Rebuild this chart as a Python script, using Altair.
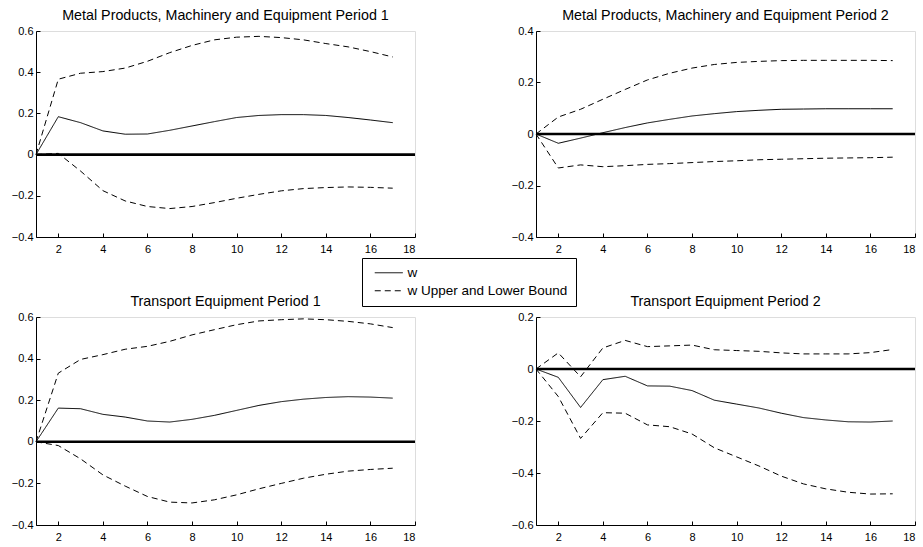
import altair as alt
import pandas as pd

# Impulse-response horizon (periods 1..17)
steps = list(range(1, 18))

panel_titles = [
    "Metal Products, Machinery and Equipment Period 1",
    "Metal Products, Machinery and Equipment Period 2",
    "Transport Equipment Period 1",
    "Transport Equipment Period 2",
]

# Point estimate w with upper / lower confidence bounds for each panel
metal_p1_w = [0.0, 0.184, 0.155, 0.115, 0.099, 0.100, 0.118, 0.139, 0.160, 0.180,
              0.190, 0.194, 0.194, 0.190, 0.180, 0.168, 0.155]
metal_p1_up = [0.0, 0.366, 0.395, 0.403, 0.420, 0.453, 0.495, 0.530, 0.557, 0.570,
               0.574, 0.568, 0.557, 0.539, 0.523, 0.500, 0.474]
metal_p1_lo = [0.0, 0.006, -0.080, -0.175, -0.225, -0.252, -0.262, -0.252, -0.233, -0.212,
               -0.193, -0.176, -0.165, -0.160, -0.157, -0.159, -0.163]

metal_p2_w = [0.0, -0.036, -0.016, 0.005, 0.025, 0.043, 0.057, 0.070, 0.079, 0.087,
              0.092, 0.096, 0.097, 0.098, 0.098, 0.098, 0.098]
metal_p2_up = [0.0, 0.066, 0.096, 0.135, 0.173, 0.210, 0.236, 0.256, 0.270, 0.278,
               0.282, 0.285, 0.286, 0.286, 0.286, 0.286, 0.285]
metal_p2_lo = [0.0, -0.132, -0.120, -0.127, -0.123, -0.118, -0.115, -0.111, -0.107, -0.104,
               -0.100, -0.098, -0.096, -0.094, -0.093, -0.092, -0.090]

trans_p1_w = [0.0, 0.162, 0.159, 0.132, 0.119, 0.100, 0.095, 0.108, 0.127, 0.151,
              0.175, 0.193, 0.205, 0.213, 0.217, 0.215, 0.210]
trans_p1_up = [0.0, 0.330, 0.396, 0.419, 0.445, 0.459, 0.483, 0.514, 0.539, 0.563,
               0.581, 0.587, 0.591, 0.587, 0.579, 0.567, 0.549]
trans_p1_lo = [0.0, -0.018, -0.082, -0.159, -0.213, -0.263, -0.290, -0.294, -0.279, -0.255,
               -0.226, -0.200, -0.175, -0.156, -0.141, -0.133, -0.127]

trans_p2_w = [0.0, -0.032, -0.148, -0.041, -0.028, -0.065, -0.066, -0.083, -0.120, -0.135,
              -0.150, -0.170, -0.187, -0.196, -0.203, -0.204, -0.200]
trans_p2_up = [0.0, 0.062, -0.030, 0.081, 0.110, 0.086, 0.089, 0.092, 0.074, 0.071,
               0.068, 0.062, 0.058, 0.058, 0.058, 0.063, 0.075]
trans_p2_lo = [0.0, -0.106, -0.267, -0.168, -0.170, -0.215, -0.222, -0.250, -0.303, -0.338,
               -0.373, -0.412, -0.442, -0.461, -0.474, -0.481, -0.480]

y_domains = [(-0.4, 0.6), (-0.4, 0.4), (-0.4, 0.6), (-0.6, 0.2)]
x_ticks = [2, 4, 6, 8, 10, 12, 14, 16, 18]

SERIES_W = "w"
SERIES_B = "w Upper and Lower Bound"
FONT = "Liberation Sans"

PANEL_W = 379
PANEL_H = [206, 206, 208, 208]


def make_panel(idx, w, up, lo, show_legend):
    rows = []
    for s, a, b, c in zip(steps, w, up, lo):
        rows.append({"step": s, "value": a, "series": SERIES_W, "line": "w"})
        rows.append({"step": s, "value": b, "series": SERIES_B, "line": "upper"})
        rows.append({"step": s, "value": c, "series": SERIES_B, "line": "lower"})
    df = pd.DataFrame(rows)

    lo_y, hi_y = y_domains[idx]
    n = int(round((hi_y - lo_y) / 0.2))
    y_ticks = [round(lo_y + 0.2 * k, 1) for k in range(n + 1)]

    xscale = alt.Scale(domain=[1, 18], nice=False, zero=False)
    yscale = alt.Scale(domain=[lo_y, hi_y], nice=False, zero=False)

    label_axis_x = alt.Axis(values=x_ticks, ticks=False, grid=False, title=None,
                            labelPadding=6, domainColor="black", labelColor="black",
                            labelFont=FONT, labelFontSize=11)
    label_axis_y = alt.Axis(values=y_ticks, ticks=False, grid=False, title=None,
                            labelPadding=3, domainColor="black", labelColor="black",
                            labelFont=FONT, labelFontSize=11,
                            labelExpr="datum.value == 0 ? '0' : format(datum.value, '.1f')")
    # inward-pointing ticks: opposite-side axes moved onto the plot edges
    tick_axis_x = alt.Axis(orient="top", offset=-PANEL_H[idx], values=x_ticks, labels=False,
                           domain=False, grid=False, title=None, tickSize=4, tickColor="black")
    tick_axis_y = alt.Axis(orient="right", offset=-PANEL_W, values=y_ticks, labels=False,
                           domain=False, grid=False, title=None, tickSize=4, tickColor="black")

    if show_legend:
        # long horizontal line sample drawn as a custom path on a small symbol box
        legend = alt.Legend(
            orient="none", legendX=326, legendY=227, title=None,
            symbolType="M-2.8,0H2.8", symbolSize=100, symbolStrokeWidth=1,
            symbolStrokeColor="black", symbolFillColor="transparent",
            labelFont=FONT, labelFontSize=13.5,
            labelColor="black", labelOffset=12, padding=8, rowPadding=3,
            symbolOffset=12,
            strokeColor="black", fillColor="white", direction="vertical",
        )
    else:
        legend = None

    lines = alt.Chart(df).mark_line(color="black", strokeWidth=1).encode(
        x=alt.X("step:Q", scale=xscale, axis=label_axis_x),
        y=alt.Y("value:Q", scale=yscale, axis=label_axis_y),
        strokeDash=alt.StrokeDash(
            "series:N",
            scale=alt.Scale(domain=[SERIES_W, SERIES_B], range=[[1, 0], [6, 4]]),
            legend=legend,
        ),
        detail="line:N",
    )

    zero = alt.Chart(pd.DataFrame({"x0": [1], "x1": [18], "y0": [0]})).mark_rule(
        color="black", strokeWidth=2.6
    ).encode(
        x=alt.X("x0:Q", scale=xscale, axis=tick_axis_x),
        x2="x1:Q",
        y=alt.Y("y0:Q", scale=yscale, axis=tick_axis_y),
    )

    return (
        alt.layer(lines, zero)
        .resolve_axis(x="independent", y="independent")
        .properties(
            width=PANEL_W,
            height=PANEL_H[idx],
            title=alt.TitleParams(panel_titles[idx], frame="group", offset=2,
                                  font=FONT, fontSize=14.3, fontWeight="normal",
                                  color="black"),
        )
    )


p1 = make_panel(0, metal_p1_w, metal_p1_up, metal_p1_lo, True)
p2 = make_panel(1, metal_p2_w, metal_p2_up, metal_p2_lo, False)
p3 = make_panel(2, trans_p1_w, trans_p1_up, trans_p1_lo, False)
p4 = make_panel(3, trans_p2_w, trans_p2_up, trans_p2_lo, False)

chart = (
    alt.concat(p1, p2, p3, p4, columns=2, spacing={"row": 80, "column": 121}, bounds="flush")
    .resolve_scale(strokeDash="independent")
    .configure_view(stroke=None)
    .configure(background="white")
    .properties(padding={"left": 10, "top": 8, "right": 5, "bottom": 5})
)

chart.save("out.html", embed_options={"renderer": "svg", "actions": False})
